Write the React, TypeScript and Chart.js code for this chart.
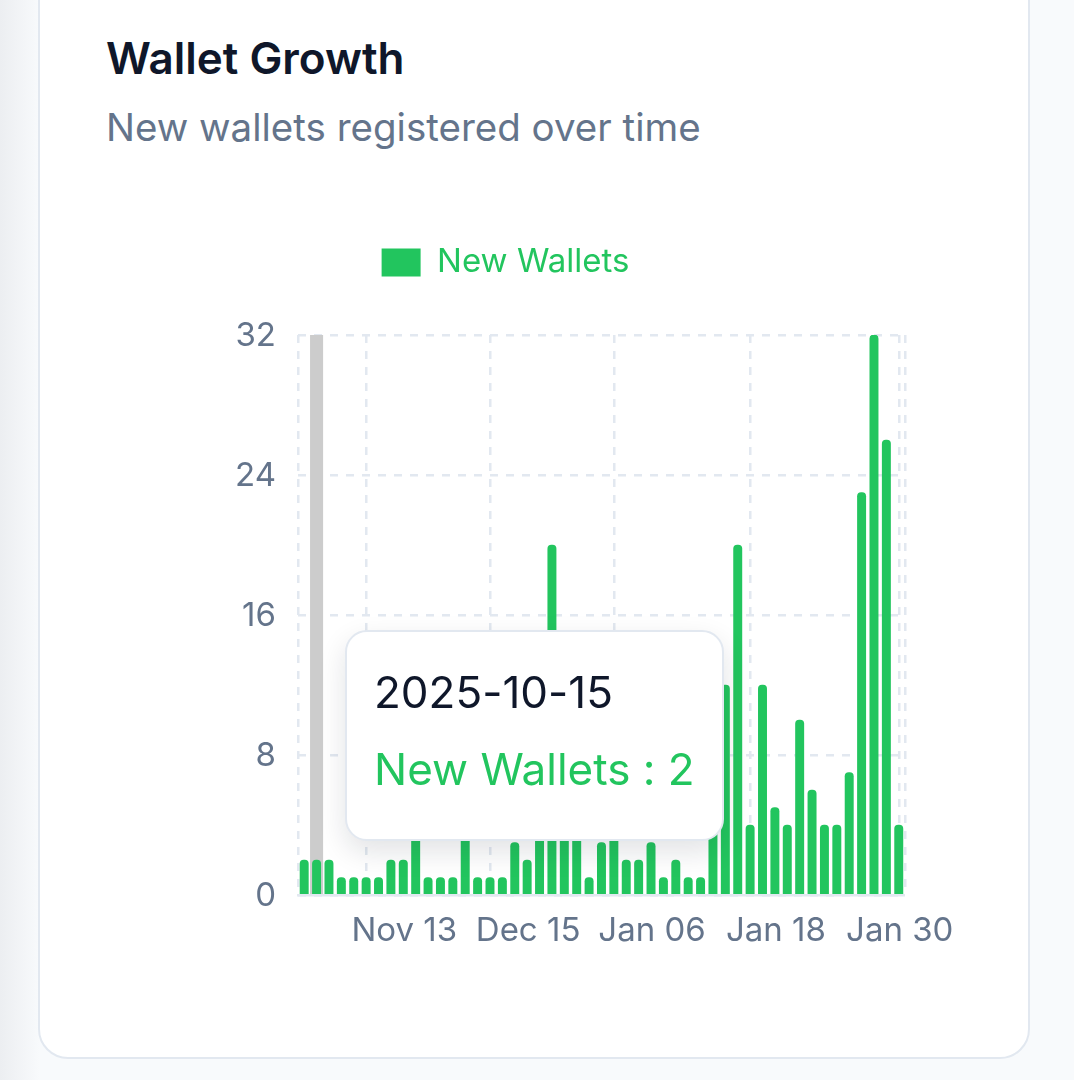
import { useEffect, useRef } from 'react'
import { Chart, registerables } from 'chart.js'

Chart.register(...registerables)

const dates = [
  '2025-10-14', '2025-10-15', '2025-10-17', '2025-10-20', '2025-10-23', '2025-10-27', '2025-10-30',
  '2025-11-04', '2025-11-13', '2025-11-14', '2025-11-17', '2025-11-19', '2025-11-21', '2025-11-25',
  '2025-11-28', '2025-12-01', '2025-12-04', '2025-12-08', '2025-12-15', '2025-12-17', '2025-12-19',
  '2025-12-22', '2025-12-24', '2025-12-27', '2025-12-30', '2025-12-31', '2026-01-02', '2026-01-04',
  '2026-01-06', '2026-01-07', '2026-01-08', '2026-01-09', '2026-01-10', '2026-01-11', '2026-01-13',
  '2026-01-14', '2026-01-15', '2026-01-17', '2026-01-18', '2026-01-19', '2026-01-20', '2026-01-21',
  '2026-01-22', '2026-01-24', '2026-01-25', '2026-01-26', '2026-01-27', '2026-01-29', '2026-01-30',
]
const newWallets = [
  2, 2, 2, 1, 1, 1, 1, 2, 2, 4, 1, 1, 1, 4, 1, 1, 1, 3, 2, 5, 20, 6, 4, 1, 3,
  4, 2, 2, 3, 1, 2, 1, 1, 8, 12, 20, 4, 12, 5, 4, 10, 6, 4, 4, 7, 23, 32, 26, 4,
]
const hovered = dates.map((_, i) => (i === 1 ? 32 : null))
const labelIndexes = [8, 18, 28, 38, 48]
// the reference's vertical grid does not line up with its labels; -0.5 and 48.5 are the plot edges
const gridIndexes = [-0.5, 5, 15, 25, 36, 48, 48.5]
const yTicks = [0, 8, 16, 24, 32]

const months = ['Jan', 'Feb', 'Mar', 'Apr', 'May', 'Jun', 'Jul', 'Aug', 'Sep', 'Oct', 'Nov', 'Dec']
const FONT = 'Inter, sans-serif'
const GREEN = '#22c55e'
const GRID = '#e2e8f0'
const MUTED = '#64748b'

function shortDate(iso: string) {
  const [, m, d] = iso.split('-')
  return `${months[Number(m) - 1]} ${d}`
}

export default function App() {
  const canvasRef = useRef<HTMLCanvasElement>(null)

  useEffect(() => {
    document.body.style.margin = '0'
    document.body.style.background = '#f8fafc'
    if (!canvasRef.current) return

    const chart = new Chart(canvasRef.current, {
      type: 'bar',
      data: {
        labels: dates,
        datasets: [
          {
            label: 'New Wallets',
            data: newWallets,
            backgroundColor: GREEN,
            barThickness: 8.3,
            borderRadius: { topLeft: 4, topRight: 4, bottomLeft: 0, bottomRight: 0 },
            borderSkipped: false,
            grouped: false,
            order: 1,
          },
          {
            label: 'cursor',
            data: hovered,
            backgroundColor: '#cccccc',
            barPercentage: 1,
            categoryPercentage: 1,
            grouped: false,
            order: 2,
          },
        ],
      } as any,
      options: {
        animation: false,
        responsive: false,
        events: [],
        layout: { padding: { left: 0, right: 56, top: 0, bottom: 0 } },
        plugins: {
          tooltip: { enabled: false },
          legend: {
            position: 'top',
            labels: {
              filter: (item: any) => item.text !== 'cursor',
              color: GREEN,
              boxWidth: 39,
              boxHeight: 28,
              padding: 12,
              font: { family: FONT, size: 33 },
            },
          },
        },
        scales: {
          x: {
            offset: true,
            afterBuildTicks: (s: any) => { s.ticks = labelIndexes.map(v => ({ value: v })) },
            afterFit: (s: any) => { s.height = 60 },
            ticks: {
              autoSkip: false,
              maxRotation: 0,
              color: MUTED,
              padding: 8,
              labelOffset: 1,
              font: { family: FONT, size: 33 },
              callback: (v: any) => shortDate(dates[Number(v)]),
            },
            grid: { display: false },
            border: { display: true, color: GRID, width: 2.5 },
          },
          x2: {
            type: 'linear',
            position: 'top',
            offset: false,
            min: -0.5,
            max: 48.5,
            afterBuildTicks: (s: any) => { s.ticks = gridIndexes.map(v => ({ value: v })) },
            afterFit: (s: any) => { s.height = 46 },
            ticks: { display: false, autoSkip: false },
            grid: { offset: false, drawTicks: false, color: GRID, lineWidth: 2.5 },
            border: { display: false, dash: [8, 8] },
          },
          y: {
            min: 0,
            max: 32,
            afterBuildTicks: (s: any) => { s.ticks = yTicks.map(v => ({ value: v })) },
            afterFit: (s: any) => { s.width = 192 },
            ticks: { color: MUTED, padding: 22, labelOffset: 1.5, font: { family: FONT, size: 33 } },
            grid: { drawTicks: false, color: GRID, lineWidth: 2.5 },
            border: { display: false, dash: [8, 8] },
          },
        },
      } as any,
    })

    return () => chart.destroy()
  }, [])

  return (
    <div
      style={{
        position: 'relative',
        width: 1074,
        height: 1080,
        overflow: 'hidden',
        fontFamily: FONT,
        background: 'linear-gradient(to right, #eceef1 0, #f8fafc 40px)',
      }}
    >
      <div
        style={{
          position: 'absolute',
          left: 38,
          top: -60,
          width: 992,
          height: 1119,
          boxSizing: 'border-box',
          background: '#fff',
          border: `2px solid ${GRID}`,
          borderRadius: 30,
        }}
      />
      <div style={{ position: 'absolute', left: 106, top: 33, fontSize: 44, fontWeight: 600, color: '#0f172a', lineHeight: '50px' }}>
        Wallet Growth
      </div>
      <div style={{ position: 'absolute', left: 106, top: 103, fontSize: 38.5, color: MUTED, lineHeight: '48px' }}>
        New wallets registered over time
      </div>
      <canvas ref={canvasRef} width={855} height={721} style={{ position: 'absolute', left: 106, top: 234 }} />
      <div
        style={{
          position: 'absolute',
          left: 345,
          top: 630,
          width: 379,
          height: 211,
          boxSizing: 'border-box',
          background: '#fff',
          border: `2px solid ${GRID}`,
          borderRadius: 22,
          boxShadow: '0 11px 28px rgba(15,23,42,0.12)',
          padding: '33px 0 0 27px',
          fontSize: 44,
          lineHeight: '55px',
          fontFeatureSettings: '"calt" 0',
        }}
      >
        <div style={{ color: '#0f172a' }}>{dates[1]}</div>
        <div style={{ color: GREEN, marginTop: 22 }}>New Wallets : {newWallets[1]}</div>
      </div>
    </div>
  )
}
